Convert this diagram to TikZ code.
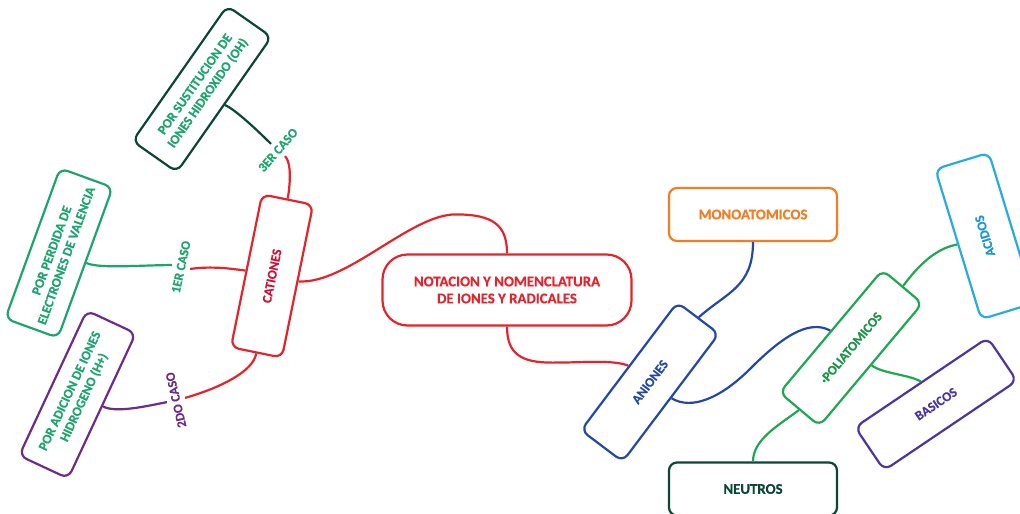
\documentclass[tikz,border=0pt]{standalone}
\usepackage{fontspec}
\setmainfont{Carlito}[BoldFeatures={FakeBold=0.5}]
\usetikzlibrary{calc}
\definecolor{cred}{RGB}{228,36,44}
\definecolor{ccat}{RGB}{200,22,58}
\definecolor{cdkg}{RGB}{12,70,55}
\definecolor{cgreen}{RGB}{28,165,110}
\definecolor{cpurp}{RGB}{108,45,138}
\definecolor{corange}{RGB}{243,125,32}
\definecolor{cblue}{RGB}{35,72,172}
\definecolor{cpoli}{RGB}{30,168,80}
\definecolor{cpolit}{RGB}{25,150,70}
\definecolor{cindigo}{RGB}{78,52,158}
\definecolor{cacid}{RGB}{38,172,225}
\definecolor{cacidt}{RGB}{25,150,215}
\begin{document}
\begin{tikzpicture}[x=1pt,y=-1pt,line width=2.2pt,
  box/.style={draw,rounded corners=8pt,align=center,inner sep=2pt,
    font=\bfseries\fontsize{13.3}{15.5}\selectfont},
  bigbox/.style={box,font=\bfseries\fontsize{14.8}{17}\selectfont},
  lab/.style={inner sep=1pt,outer sep=4pt,font=\bfseries\fontsize{13}{15}\selectfont}]
\fill[white] (0,0) rectangle (1020,514);
\useasboundingbox (0,0) rectangle (1020,514);
\clip (0,0) rectangle (1020,514);
% central
\node[bigbox,draw=cred,text=cred,minimum width=249pt,minimum height=71pt,rounded corners=25pt] (main) at (507,290) {NOTACION Y NOMENCLATURA\\DE IONES Y RADICALES};
% left
\node[box,draw=cred,text=ccat,rotate=78.5,minimum width=156pt,minimum height=52pt] (cat) at (272,276) {CATIONES};
\node[box,draw=cdkg,text=cgreen,rotate=55,minimum width=165pt,minimum height=54pt] (sust) at (202,89) {POR SUSTITUCION DE\\IONES HIDROXIDO (OH)};
\node[box,draw=cgreen,text=cgreen,rotate=70,minimum width=160pt,minimum height=56pt] (perd) at (59,253) {POR PERDIDA DE\\ELECTRONES DE VALENCIA};
\node[box,draw=cpurp,text=cgreen,rotate=65,minimum width=160pt,minimum height=54pt] (adic) at (77.5,394.5) {POR ADICION DE IONES\\HIDROGENO (H+)};
\node[lab,text=cgreen,rotate=78] (l1) at (181,267) {1ER CASO};
\node[lab,text=cpurp,rotate=103] (l2) at (176,400) {2DO CASO};
\node[lab,text=cgreen,rotate=49] (l3) at (278,150) {3ER CASO};
% right
\node[bigbox,draw=corange,text=corange,minimum width=168pt,minimum height=53pt] (mono) at (753,214.5) {MONOATOMICOS};
\node[box,draw=cblue,text=cblue,rotate=53,minimum width=160pt,minimum height=52pt] (ani) at (650,382) {ANIONES};
\node[box,draw=cpoli,text=cpolit,rotate=50,minimum width=160pt,minimum height=52pt] (poli) at (851,348) {·POLIATOMICOS};
\node[box,draw=cindigo,text=cindigo,rotate=34,minimum width=160pt,minimum height=52pt] (bas) at (936,404) {BASICOS};
\node[box,draw=cacid,text=cacidt,rotate=107,minimum width=157pt,minimum height=56pt] (acid) at (985,236) {ACIDOS};
\node[bigbox,draw=cdkg,text=cdkg,minimum width=168pt,minimum height=53pt] (neu) at (753,489) {NEUTROS};
% connectors
\draw[cred] (cat.south) .. controls +(48,3) and +(-45,0) .. ++(157,-67) .. controls +(38,0) and +(0,-28) .. (main.north);
\draw[cred] (main.south) .. controls +(0,28) and +(-30,0) .. ++(45,36) .. controls +(35,0) and +(-15,-6) .. (ani.north);
\draw[cgreen] (perd.south) .. controls +(12,6) and +(-30,0) .. (l1.north);
\draw[cred] (l1.south) .. controls +(22,-3) and +(-15,-2) .. (cat.north);
\draw[cpurp] (adic.south) .. controls +(12,7) and +(-20,4) .. (l2.north);
\draw[cred] (l2.south) .. controls +(35,-10) and +(-3,18) .. (cat.west);
\draw[cdkg] (sust.south) .. controls +(10,4) and +(-12,-12) .. (l3.north);
\draw[cred] (l3.south) .. controls +(6,6) and +(3,-18) .. (cat.east);
\draw[cblue] (mono.south) .. controls +(0,45) and +(28,-25) .. (ani.east);
\draw[cblue] (ani.south) .. controls +(20,12) and +(-30,30) .. ++(79,-30) .. controls +(30,-30) and +(-22,-12) .. (poli.north);
\draw[cpoli] (poli.east) .. controls +(15,-20) and +(-22,4) .. (acid.north);
\draw[cpoli] (poli.south) .. controls +(10,8) and +(-12,-7) .. (bas.north);
\draw[cpoli] (poli.west) .. controls +(-20,15) and +(0,-22) .. (neu.north);
\end{tikzpicture}
\end{document}
